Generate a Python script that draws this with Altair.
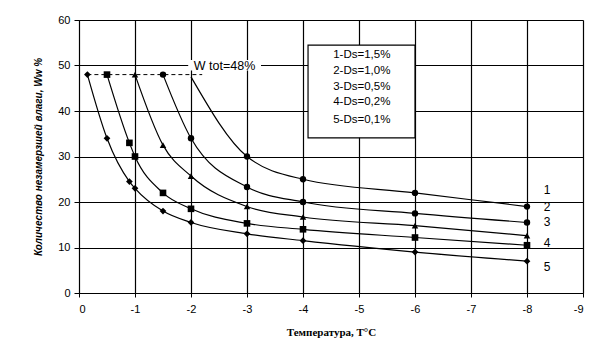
import altair as alt
import pandas as pd

# Series data (temperature, moisture)
s1_x = [-2.0, -3, -4, -6, -8]
s1_y = [47.5, 30, 25, 22, 19]
s2_x = [-1.5, -2, -3, -4, -6, -8]
s2_y = [48, 34, 23.3, 20, 17.5, 15.5]
s3_x = [-1.0, -1.5, -2, -3, -4, -6, -8]
s3_y = [48, 32.5, 25.7, 19, 16.7, 14.8, 12.6]
s4_x = [-0.5, -0.9, -1.0, -1.5, -2, -3, -4, -6, -8]
s4_y = [48, 33, 30, 22, 18.5, 15.3, 14, 12.2, 10.5]
s5_x = [-0.15, -0.5, -0.9, -1.0, -1.5, -2, -3, -4, -6, -8]
s5_y = [48, 34, 24.5, 23, 18, 15.5, 13, 11.5, 9, 7]

series_names = ["1", "2", "3", "4", "5"]
series_shapes = ["circle", "circle", "triangle-up", "square", "diamond"]
series_sizes = [40, 45, 35, 40, 30]

# Curve labels at right end
label_x = [-8.3, -8.3, -8.3, -8.3, -8.3]
label_y = [22.6, 18.9, 15.6, 11.0, 5.7]

legend_lines = ["1-Ds=1,5%", "2-Ds=1,0%", "3-Ds=0,5%", "4-Ds=0,2%", "5-Ds=0,1%"]
legend_y = [52.3, 48.7, 45.3, 41.9, 38.1]

x_ticks = [0, -1, -2, -3, -4, -5, -6, -7, -8, -9]
y_ticks = [0, 10, 20, 30, 40, 50, 60]

rows = []
for name, xs, ys in zip(series_names, [s1_x, s2_x, s3_x, s4_x, s5_x],
                        [s1_y, s2_y, s3_y, s4_y, s5_y]):
    for i, (a, b) in enumerate(zip(xs, ys)):
        rows.append({"s": name, "t": a, "w": b,
                     "marker": not (name == "1" and i == 0)})
df = pd.DataFrame(rows)

xscale = alt.Scale(domain=[0, -9], nice=False, zero=False)
yscale = alt.Scale(domain=[0, 60], nice=False)

base = alt.Chart(df)

lines = base.mark_line(color="black", strokeWidth=1.2, interpolate="monotone").encode(
    x=alt.X("t:Q", scale=xscale,
            axis=alt.Axis(values=x_ticks, labelExpr="toString(datum.value)",
                          title="Температура, T°C", titleFont="Liberation Serif",
                          titleFontWeight="bold", titleFontSize=11, titlePadding=12,
                          labelFont="Liberation Sans", labelFontSize=11, labelColor="black",
                          grid=True, gridColor="black", gridOpacity=1, gridWidth=1.2,
                          domainColor="black", tickColor="black", tickSize=4,
                          labelPadding=6, titleColor="black")),
    y=alt.Y("w:Q", scale=yscale,
            axis=alt.Axis(values=y_ticks, title="Количество незамерзшей влаги, Ww %",
                          titleFont="Liberation Sans", titleFontWeight="bold",
                          titleFontStyle="italic", titleFontSize=10, titlePadding=14,
                          labelFont="Liberation Sans", labelFontSize=11, labelColor="black",
                          grid=True, gridColor="black", gridOpacity=1, gridWidth=1.2,
                          domainColor="black", tickColor="black", tickSize=5,
                          labelPadding=4, titleColor="black")),
    detail="s:N",
)

points = base.transform_filter("datum.marker").mark_point(filled=True, color="black", opacity=1).encode(
    x="t:Q", y="w:Q",
    shape=alt.Shape("s:N", scale=alt.Scale(domain=series_names, range=series_shapes), legend=None),
    size=alt.Size("s:N", scale=alt.Scale(domain=series_names, range=series_sizes), legend=None),
)

dash_df = pd.DataFrame({"t": [-0.15], "t2": [-2.2], "w": [48]})
dash = alt.Chart(dash_df).mark_rule(color="black", strokeDash=[4, 3], strokeWidth=1).encode(
    x="t:Q", x2="t2:Q", y="w:Q")

wbox_df = pd.DataFrame({"t": [-1.95], "t2": [-3.25], "w": [48.9], "w2": [51.2]})
wbox = alt.Chart(wbox_df).mark_rect(fill="white").encode(x="t:Q", x2="t2:Q", y="w:Q", y2="w2:Q")
wtext = alt.Chart(pd.DataFrame({"t": [-2.6], "w": [50], "txt": ["W tot=48%"]})).mark_text(
    font="Liberation Sans", fontSize=12.5, color="black").encode(x="t:Q", y="w:Q", text="txt:N")

lbox_df = pd.DataFrame({"t": [-4.09], "t2": [-6.0], "w": [54.5], "w2": [34.1]})
lbox = alt.Chart(lbox_df).mark_rect(fill="white", stroke="black", strokeWidth=1.2).encode(
    x="t:Q", x2="t2:Q", y="w:Q", y2="w2:Q")
ltext = alt.Chart(pd.DataFrame({"t": [-5.05] * 5, "w": legend_y, "txt": legend_lines})).mark_text(
    font="Liberation Sans", fontSize=11.5, color="black").encode(x="t:Q", y="w:Q", text="txt:N")

clabels = alt.Chart(pd.DataFrame({"t": label_x, "w": label_y, "txt": series_names})).mark_text(
    font="Liberation Sans", fontSize=12, color="black", align="left").encode(
    x="t:Q", y="w:Q", text="txt:N")

chart = alt.layer(lines, points, dash, wbox, wtext, lbox, ltext, clabels).properties(
    width=504, height=273,
    autosize=alt.AutoSizeParams(type="none"),
    padding={"left": 71, "top": 12, "right": 10, "bottom": 50},
).configure_view(stroke="black", strokeWidth=1.2).configure(background="white")

chart.save("out.html", embed_options={"renderer": "svg", "actions": False})
